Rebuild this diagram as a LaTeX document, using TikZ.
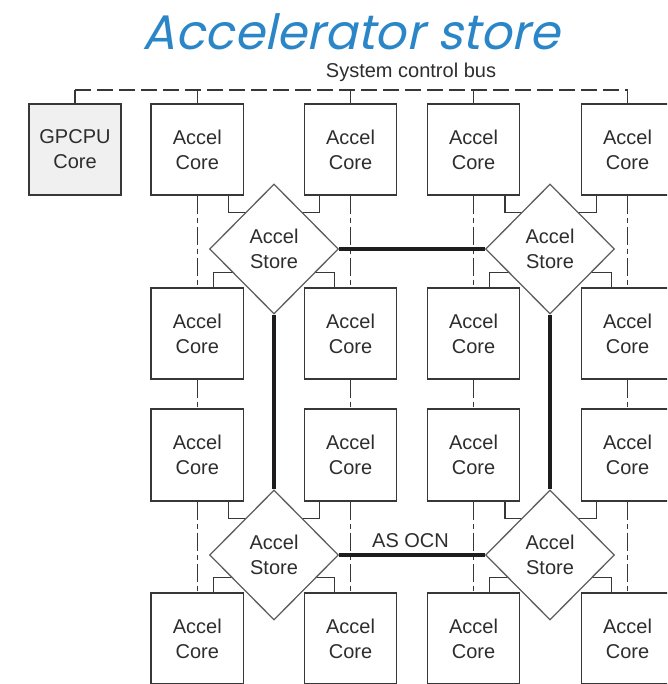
\documentclass[tikz,border=0pt]{standalone}
\usepackage{fontspec}
\setmainfont{Liberation Sans}
\newfontfamily\titlefont[FakeSlant=0.22]{Poppins}
\usetikzlibrary{shapes.geometric,backgrounds,calc}
\definecolor{titleblue}{RGB}{43,134,200}
\definecolor{edgec}{RGB}{55,55,55}
\definecolor{diaedge}{RGB}{95,95,95}
\definecolor{txt}{RGB}{45,45,45}
\definecolor{gpfill}{RGB}{240,240,240}
\definecolor{ocnc}{RGB}{30,28,28}
\begin{document}
\begin{tikzpicture}[x=1pt,y=-1pt,
  core/.style={draw=edgec,line width=1.3pt,minimum width=92.5pt,minimum height=91pt,
    inner sep=0pt,align=center,font=\fontsize{20}{25}\selectfont,text=txt},
  store/.style={diamond,aspect=1,draw=diaedge,fill=white,line width=1.3pt,
    minimum width=129pt,minimum height=130pt,inner sep=0pt,align=center,
    font=\fontsize{20}{25}\selectfont,text=txt},
  link/.style={draw=edgec,line width=1.2pt},
  busdash/.style={draw=edgec,line width=1.2pt,dash pattern=on 16pt off 6pt},
  vdash/.style={draw=edgec,line width=1.2pt,dash pattern=on 18pt off 4pt on 5pt off 4pt},
  ocn/.style={draw=ocnc,line width=4.5pt},
  lbl/.style={font=\fontsize{20}{24}\selectfont,text=txt,anchor=base,inner sep=0pt}
]
\useasboundingbox (0,0) rectangle (667,684);
\clip (0,0) rectangle (667,684);

\node[font=\titlefont\fontsize{48.5}{48.5}\selectfont,text=titleblue,anchor=base,inner sep=0pt,text depth=0pt] (title) at (351,50) {Accelerator store};
\node[lbl] (buslabel) at (411,78) {System control bus};
\node[lbl] (ocnlabel) at (410.5,547) {AS OCN};

% GPCPU
\node[core,fill=gpfill,minimum width=92pt] (gp) at (75,149.5) {GPCPU\\Core};

% Accel cores
\foreach \r/\y/\h in {1/149.5/91,2/333.5/91,3/455/92,4/638.5/91}{
  \foreach \c/\x in {1/197.25,2/350.5,3/473.5,4/627.5}{
    \node[core,minimum height=\h pt] (c\r\c) at (\x,\y) {Accel\\Core};
  }
}

% Accel stores
\node[store] (s1) at (274,249) {Accel\\Store};
\node[store] (s2) at (550,249) {Accel\\Store};
\node[store] (s3) at (274,555) {Accel\\Store};
\node[store] (s4) at (550,555) {Accel\\Store};

\begin{scope}[on background layer]
  % system control bus
  \coordinate (busL) at (75,90);
  \draw[busdash] (busL) -- (busL -| c14.north);
  \foreach \n in {gp,c11,c12,c13,c14}{
    \draw[link] (\n.north) -- (\n.north |- busL);
  }
  % vertical bus drops
  \foreach \c in {1,2,3,4}{
    \draw[vdash] (c1\c.south) -- (c2\c.north);
    \draw[vdash] (c2\c.south) -- (c3\c.north);
    \draw[vdash] (c3\c.south) -- (c4\c.north);
  }
  % store-to-core links
  \foreach \s/\a/\b/\cc/\d in {s1/c11/c12/c21/c22, s2/c13/c14/c23/c24, s3/c31/c32/c41/c42, s4/c33/c34/c43/c44}{
    \draw[link] ([xshift=-15.5pt]\a.south east) -- ++(0,17) -| (\s.center);
    \draw[link] ([xshift=16pt]\b.south west) -- ++(0,17) -| (\s.center);
    \draw[link] ([xshift=-31pt]\cc.north east) -- ++(0,-15) -| (\s.center);
    \draw[link] ([xshift=30.5pt]\d.north west) -- ++(0,-15) -| (\s.center);
  }
\end{scope}

% AS OCN
\draw[ocn] (s1.east) -- (s2.west);
\draw[ocn] (s3.east) -- (s4.west);
\draw[ocn] (s1.south) -- (s3.north);
\draw[ocn] (s2.south) -- (s4.north);
\end{tikzpicture}
\end{document}
